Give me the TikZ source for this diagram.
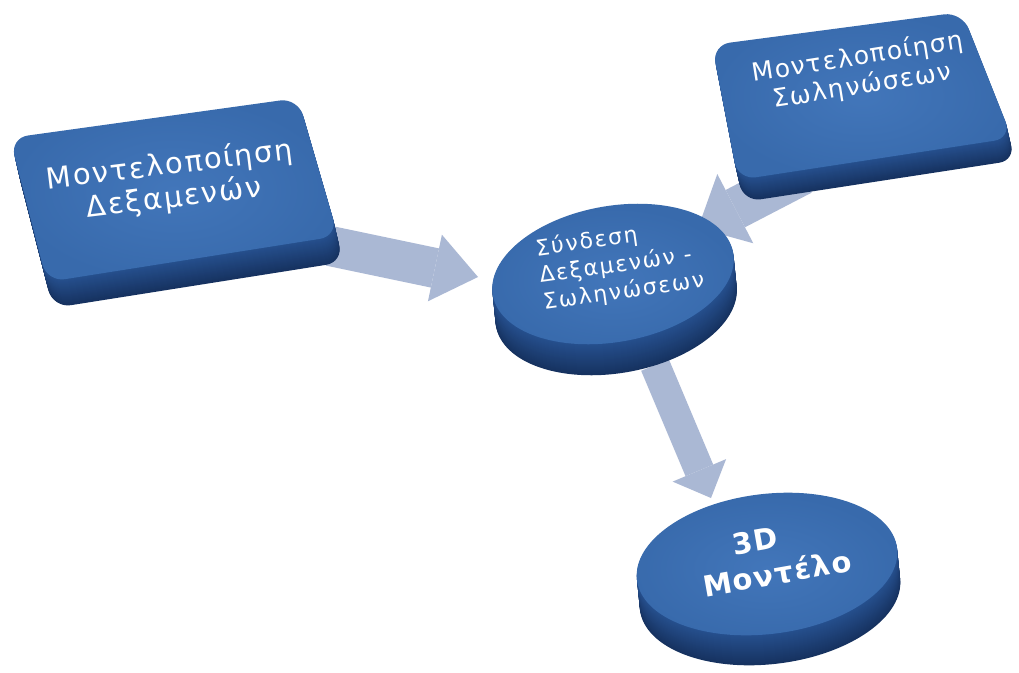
\documentclass[tikz,border=0pt]{standalone}
\usepackage{fontspec}
\setmainfont{DejaVu Sans}
\usetikzlibrary{arrows.meta,calc}

\definecolor{facecol}{RGB}{56,106,172}
\definecolor{facelite}{RGB}{66,118,186}
\definecolor{sidecol}{RGB}{38,80,142}
\definecolor{sidedark}{RGB}{22,50,96}
\definecolor{arrowcol}{RGB}{170,184,212}

\tikzset{
  flowarrow/.style={arrowcol, line width=#1},
  lbl/.style={text=white, align=center, inner sep=0pt},
  slabtop/.style={inner color=facelite, outer color=facecol, rounded corners=18pt},
}

% spaced-out label lettering: size, baseline skip, extra tracking
\newcommand\lblfont[3]{\fontsize{#1}{#2}\selectfont\addfontfeature{LetterSpace=#3}}

% a rounded slab: four corners of the top face, sideways drift, thickness
\newcommand\slabshape[6]{%
  \foreach \k [evaluate=\k as \p using 100*\k/#6] in {#6,...,1}{
    \fill[sidedark!\p!sidecol, shift={(#5*\k/#6,\k)}, rounded corners=18pt]
      #1 -- #2 -- #3 -- #4 -- cycle;
  }
  \shade[slabtop] #1 -- #2 -- #3 -- #4 -- cycle;
}

% a flat disc: centre, radii, tilt and thickness
\newcommand\discshape[5]{%
  \foreach \k [evaluate=\k as \p using 100*\k/#5] in {#5,...,1}{
    \fill[sidedark!\p!sidecol, shift={($(#1)+(0.1*\k,\k)$)}, rotate=#4]
      (0,0) ellipse[x radius=#2, y radius=#3];
  }
  \shade[inner color=facelite, outer color=facecol, shift={(#1)}, rotate=#4]
    (0,0) ellipse[x radius=#2, y radius=#3];
}

\begin{document}
\begin{tikzpicture}[x=1pt,y=-1pt]
  \fill[white] (0,0) rectangle (1019,672);
  \useasboundingbox (0,0) rectangle (1019,672);

  % centres of the two discs
  \coordinate (link)  at (613,274);
  \coordinate (model) at (767,564);

  % arrow ends
  \coordinate (a1s) at (330,246);
  \coordinate (a1e) at (478,277);
  \coordinate (a2s) at (802,174);
  \coordinate (a2e) at (698,228);
  \coordinate (a3s) at (655,365);
  \coordinate (a3e) at (711,498);

  % connecting arrows, behind the blocks
  \draw[flowarrow=40pt, -{Triangle[width=68pt,length=44pt,line width=0pt]}] (a1s) -- (a1e);
  \draw[flowarrow=42pt, -{Triangle[width=78pt,length=42pt,line width=0pt]}] (a2s) -- (a2e);
  \draw[flowarrow=30pt, -{Triangle[width=58pt,length=30pt,line width=0pt]}] (a3s) -- (a3e);

  % blocks
  \slabshape{(10,138)}{(298,98)}{(338,236)}{(47,282)}{6}{26}
  \slabshape{(712,45)}{(962,12)}{(1012,138)}{(738,180)}{5}{22}
  \discshape{link}{122}{68}{10}{31}
  \discshape{model}{131}{70}{7}{30}

  % labels
  \node[lbl, rotate=7, font=\lblfont{29}{33}{6}] (tankslbl) at (172,182)
    {Μοντελοποίηση\\Δεξαμενών};

  \node[lbl, rotate=9, font=\lblfont{25}{29}{6}] (pipeslbl) at (860,72)
    {Μοντελοποίηση\\Σωληνώσεων};

  \node[lbl, rotate=8, align=left, font=\lblfont{22}{27}{8}] (linklbl) at (620,265)
    {Σύνδεση\\Δεξαμενών -\\Σωληνώσεων};

  \node[lbl, rotate=10, font=\bfseries\lblfont{29}{36}{5}] (modellbl) at (774,556)
    {3D\hspace*{1.1em}\\Μοντέλο};
\end{tikzpicture}
\end{document}
